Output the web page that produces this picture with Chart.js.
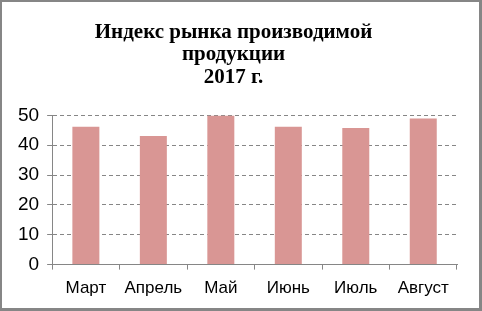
<!DOCTYPE html>
<html>
<head>
    <script src="https://cdn.jsdelivr.net/npm/chart.js"></script>
    <style>
        html, body {
            margin: 0;
            padding: 0;
            background: #fff;
        }

        .wrap {
            position: relative;
            width: 482px;
            height: 311px;
        }

        .frame {
            position: absolute;
            left: 0;
            top: 0;
            width: 482px;
            height: 311px;
            box-sizing: border-box;
            border: 2px solid #868686;
            border-bottom-width: 3px;
            border-right-width: 3px;
            pointer-events: none;
        }
    </style>
</head>

<body>
    <div class="wrap">
        <canvas id="myChart" width="482" height="311"></canvas>
        <div class="frame"></div>
    </div>

    <script>
        // data
        const months = ['Март', 'Апрель', 'Май', 'Июнь', 'Июль', 'Август'];
        const indexValues = [46.2, 43.1, 50, 46.2, 45.8, 49];
        const titleLines = ['Индекс рынка производимой', 'продукции', '2017 г.'];

        const ctx = document.getElementById('myChart').getContext('2d');
        new Chart(ctx, {
            type: 'bar',
            data: {
                labels: months,
                datasets: [{
                    label: 'Индекс',
                    data: indexValues,
                    backgroundColor: '#D99694',
                    borderWidth: 0,
                    barPercentage: 0.4,
                    categoryPercentage: 1
                }]
            },
            options: {
                responsive: false,
                animation: false,
                layout: {
                    padding: { left: 10, right: 25, top: 0, bottom: 3 }
                },
                plugins: {
                    legend: { display: false },
                    tooltip: { enabled: false },
                    title: {
                        display: true,
                        text: titleLines,
                        color: '#000',
                        font: { family: 'Liberation Serif', size: 21, weight: 'bold', lineHeight: 1.07 },
                        padding: { top: 21, bottom: 27 }
                    }
                },
                scales: {
                    x: {
                        grid: {
                            drawOnChartArea: false,
                            drawTicks: true,
                            tickLength: 5,
                            color: '#868686'
                        },
                        border: { color: '#868686', width: 1 },
                        ticks: {
                            color: '#000',
                            font: { family: 'Liberation Sans', size: 17 },
                            padding: 9
                        }
                    },
                    y: {
                        min: 0,
                        max: 50,
                        ticks: {
                            stepSize: 10,
                            color: '#000',
                            font: { family: 'Liberation Sans', size: 19 },
                            padding: 8
                        },
                        grid: {
                            color: '#868686',
                            tickLength: 5,
                            tickBorderDash: [0, 0]
                        },
                        border: { color: '#868686', width: 1, dash: [4, 3] }
                    }
                }
            }
        });
    </script>
</body>

</html>
